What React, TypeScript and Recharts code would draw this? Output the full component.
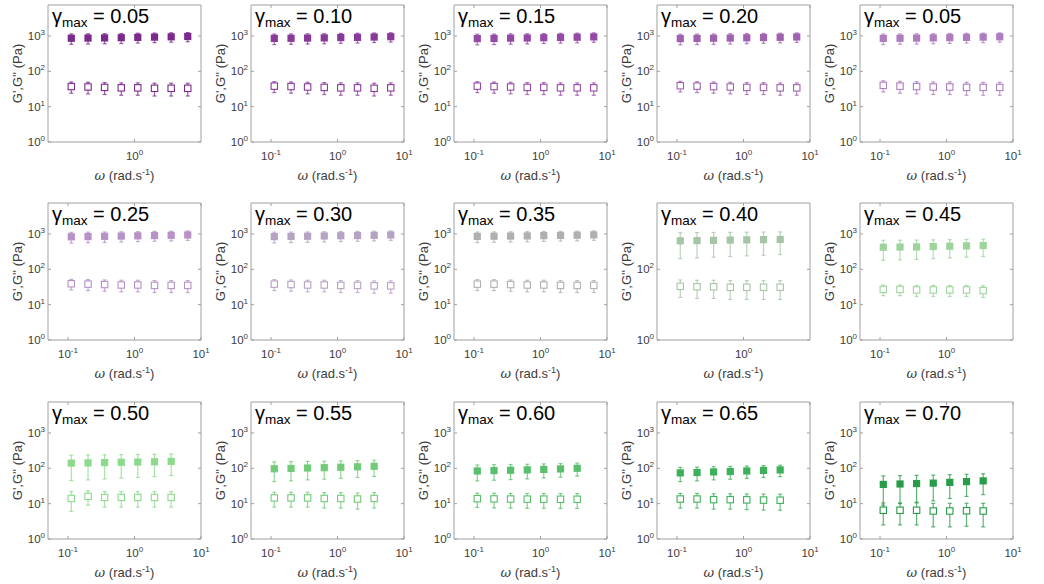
import { ScatterChart, Scatter, XAxis, YAxis, ErrorBar, ReferenceArea } from "recharts"

// angular frequency sweep (rad/s)
const omega = [0.112, 0.2, 0.355, 0.632, 1.12, 2.0, 3.56, 6.32]

const strainLabels = [
  "0.05", "0.10", "0.15", "0.20", "0.05",
  "0.25", "0.30", "0.35", "0.40", "0.45",
  "0.50", "0.55", "0.60", "0.65", "0.70",
]

const panelColors = [
  "#7b2a8c", "#883a9a", "#9449a6", "#a062b0", "#ae7dbf",
  "#b692c6", "#b6a2c2", "#b0b0b0", "#a6c4a6", "#9cd49c",
  "#8cda8c", "#72cb78", "#5abf6c", "#3db05a", "#289c48",
]

// G' (Pa)
const storage = [
  [860, 870, 880, 890, 910, 925, 945, 965],
  [850, 860, 870, 880, 900, 910, 930, 950],
  [840, 850, 865, 875, 890, 905, 920, 940],
  [840, 850, 860, 870, 885, 900, 915, 935],
  [850, 860, 870, 880, 895, 910, 925, 945],
  [830, 845, 855, 870, 885, 900, 915, 935],
  [840, 850, 860, 875, 890, 900, 915, 935],
  [850, 860, 870, 880, 895, 905, 920, 940],
  [640, 650, 660, 670, 680, 690, 700],
  [420, 425, 430, 440, 450, 460, 470],
  [140, 142, 145, 148, 150, 153, 157],
  [97, 99, 102, 104, 107, 110, 114],
  [84, 86, 88, 90, 93, 96, 100],
  [74, 76, 79, 81, 84, 87, 90],
  [35, 36, 37, 38, 40, 42, 44],
]

const storageErr = [
  [280, 280, 280, 280, 280, 280, 280, 280],
  [280, 280, 280, 280, 280, 280, 280, 280],
  [280, 280, 280, 280, 280, 280, 280, 280],
  [280, 280, 280, 280, 280, 280, 280, 280],
  [280, 280, 280, 280, 280, 280, 280, 280],
  [280, 280, 280, 280, 280, 280, 280, 280],
  [280, 280, 280, 280, 280, 280, 280, 280],
  [280, 280, 280, 280, 280, 280, 280, 280],
  [440, 440, 440, 440, 440, 440, 440],
  [240, 240, 240, 240, 240, 240, 240],
  [95, 95, 95, 95, 95, 95, 95],
  [55, 55, 55, 55, 55, 55, 55],
  [40, 40, 40, 40, 40, 40, 40],
  [32, 32, 32, 32, 32, 32, 32],
  [26, 26, 26, 26, 26, 26, 26],
]

// G'' (Pa)
const loss = [
  [37, 36, 35, 34, 34, 33, 33, 33],
  [38, 37, 36, 35, 34, 34, 33, 34],
  [38, 37, 36, 35, 35, 34, 34, 34],
  [39, 38, 37, 36, 35, 35, 34, 34],
  [40, 38, 37, 36, 36, 35, 35, 35],
  [39, 38, 37, 36, 36, 35, 35, 35],
  [38, 37, 36, 36, 35, 35, 34, 34],
  [38, 38, 37, 36, 36, 35, 35, 35],
  [33, 32, 32, 31, 31, 31, 31],
  [27, 27, 26, 26, 26, 26, 25],
  [14, 16, 15, 15, 15, 15, 15],
  [14.5, 14.5, 14.5, 14, 14, 13.5, 14],
  [13.8, 13.6, 13.5, 13.4, 13.4, 13.3, 13.3],
  [13.5, 13.5, 13, 13, 12.8, 12.6, 12.5],
  [6.5, 6.5, 6.5, 6.2, 6.2, 6.3, 6.2],
]

const lossErr = [
  [13, 13, 13, 13, 13, 13, 13, 13],
  [13, 13, 13, 13, 13, 13, 13, 13],
  [13, 13, 13, 13, 13, 13, 13, 13],
  [13, 13, 13, 13, 13, 13, 13, 13],
  [14, 14, 14, 14, 14, 14, 14, 14],
  [13, 13, 13, 13, 13, 13, 13, 13],
  [13, 13, 13, 13, 13, 13, 13, 13],
  [13, 13, 13, 13, 13, 13, 13, 13],
  [17, 17, 17, 17, 17, 17, 17],
  [9, 9, 9, 9, 9, 9, 9],
  [8, 7, 7, 7, 7, 7, 7],
  [6.5, 6.5, 6.5, 6.5, 6.5, 6.5, 6.5],
  [6, 6, 6, 6, 6, 6, 6],
  [6, 6, 6, 6, 6, 6, 6],
  [4, 4, 4, 4, 4, 4, 4],
]

const fullX = [0.1, 1, 10]
const fullY = [1, 10, 100, 1000]
const xTickSets = [
  [1], fullX, fullX, fullX, fullX,
  fullX, fullX, fullX, [1], [0.1, 1],
  fullX, fullX, fullX, fullX, fullX,
]
const yTickSets = [
  fullY, fullY, fullY, fullY, fullY,
  fullY, fullY, fullY, [1, 100], fullY,
  fullY, fullY, fullY, fullY, fullY,
]

const X_DOMAIN = [0.05, 10]
const Y_DOMAIN = [1, 7500]

const W = 203
const H = 187
const BOX_L = 48
const BOX_T = 5
const PW = 153
const PH = 137
const FONT = '"Liberation Sans", Arial, Helvetica, sans-serif'
const TXT = "#3c3c3c"
const EDGE = "#a0a0a0"

const exponent = (v: number) => Math.round(Math.log10(v))

function XTick({ x, y, payload }: any) {
  return (
    <g>
      <line x1={x} x2={x} y1={y} y2={y - 3} stroke={EDGE} />
      <line x1={x} x2={x} y1={y - PH} y2={y - PH + 3} stroke={EDGE} />
      <text x={x} y={y + 17.5} textAnchor="middle" fontSize={11.5} fill={TXT} fontFamily={FONT}>
        10<tspan dy={-5} fontSize={8}>{exponent(payload.value)}</tspan>
      </text>
    </g>
  )
}

function YTick({ x, y, payload }: any) {
  return (
    <g>
      <line x1={x} x2={x + 3} y1={y} y2={y} stroke={EDGE} />
      <line x1={x + PW} x2={x + PW - 3} y1={y} y2={y} stroke={EDGE} />
      <text x={x - 3} y={y + 4} textAnchor="end" fontSize={11.5} fill={TXT} fontFamily={FONT}>
        10<tspan dy={-5} fontSize={8}>{exponent(payload.value)}</tspan>
      </text>
    </g>
  )
}

function Panel({ i }: { i: number }) {
  const col = i % 5
  const row = Math.floor(i / 5)
  const color = panelColors[i]
  const gp = storage[i].map((g, k) => ({ w: omega[k], g, err: storageErr[i][k] }))
  const gpp = loss[i].map((g, k) => ({ w: omega[k], g, err: lossErr[i][k] }))

  return (
    <div style={{ position: "absolute", left: col * 203, top: row * 198 + (row === 2 ? 1 : 0), width: W, height: H }}>
      <ScatterChart width={W} height={H} margin={{ top: BOX_T, right: W - BOX_L - PW, bottom: 0, left: 0 }}>
        <XAxis
          type="number"
          dataKey="w"
          scale="log"
          domain={X_DOMAIN}
          allowDataOverflow
          ticks={xTickSets[i]}
          interval={0}
          axisLine={false}
          tickLine={false}
          tickSize={0}
          tickMargin={0}
          height={H - BOX_T - PH}
          tick={(p: any) => <XTick {...p} />}
        />
        <YAxis
          type="number"
          dataKey="g"
          scale="log"
          domain={Y_DOMAIN}
          allowDataOverflow
          ticks={yTickSets[i]}
          interval={0}
          axisLine={false}
          tickLine={false}
          tickSize={0}
          tickMargin={0}
          width={BOX_L}
          tick={(p: any) => <YTick {...p} />}
        />
        <ReferenceArea x1={X_DOMAIN[0]} x2={X_DOMAIN[1]} y1={Y_DOMAIN[0]} y2={Y_DOMAIN[1]} fill="none" stroke={EDGE} />
        <Scatter
          data={gpp}
          isAnimationActive={false}
          shape={(p: any) => (
            <rect x={p.cx - 3.2} y={p.cy - 3.2} width={6.4} height={6.4} fill="#fff" stroke={color} strokeWidth={1.1} />
          )}
        >
          <ErrorBar dataKey="err" direction="y" width={2} stroke={color} strokeOpacity={0.75} strokeWidth={1.2} isAnimationActive={false} />
        </Scatter>
        <Scatter
          data={gp}
          isAnimationActive={false}
          shape={(p: any) => <rect x={p.cx - 3.6} y={p.cy - 3.6} width={7.2} height={7.2} fill={color} />}
        >
          <ErrorBar dataKey="err" direction="y" width={2} stroke={color} strokeOpacity={0.75} strokeWidth={1.2} isAnimationActive={false} />
        </Scatter>
      </ScatterChart>
      <svg width={W} height={H} style={{ position: "absolute", left: 0, top: 0, overflow: "visible", pointerEvents: "none" }}>
        <text x={BOX_L + 4} y={BOX_T + 18} fontSize={20} fill="#000" fontFamily={FONT}>
          γ<tspan fontSize={13.5} dy={3.5}>max</tspan>
          <tspan dy={-3.5}>{" = " + strainLabels[i]}</tspan>
        </text>
        <text x={BOX_L + PW / 2} y={BOX_T + PH + 38} textAnchor="middle" fontSize={13} fill={TXT} fontFamily={FONT}>
          <tspan fontStyle="italic" fontFamily="'DejaVu Serif', serif">ω</tspan>
          {" (rad.s"}
          <tspan dy={-5} fontSize={9}>-1</tspan>
          <tspan dy={5}>)</tspan>
        </text>
        <text
          transform={`translate(22, ${BOX_T + PH / 2}) rotate(-90)`}
          textAnchor="middle"
          fontSize={13}
          fill={TXT}
          fontFamily={FONT}
        >
          G',G'' (Pa)
        </text>
      </svg>
    </div>
  )
}

export default function App() {
  return (
    <div style={{ position: "absolute", left: 0, top: 0, width: 1044, height: 584, overflow: "hidden", background: "#fff" }}>
      <style>{".recharts-surface{overflow:visible}"}</style>
      {strainLabels.map((_, i) => (
        <Panel key={i} i={i} />
      ))}
    </div>
  )
}
